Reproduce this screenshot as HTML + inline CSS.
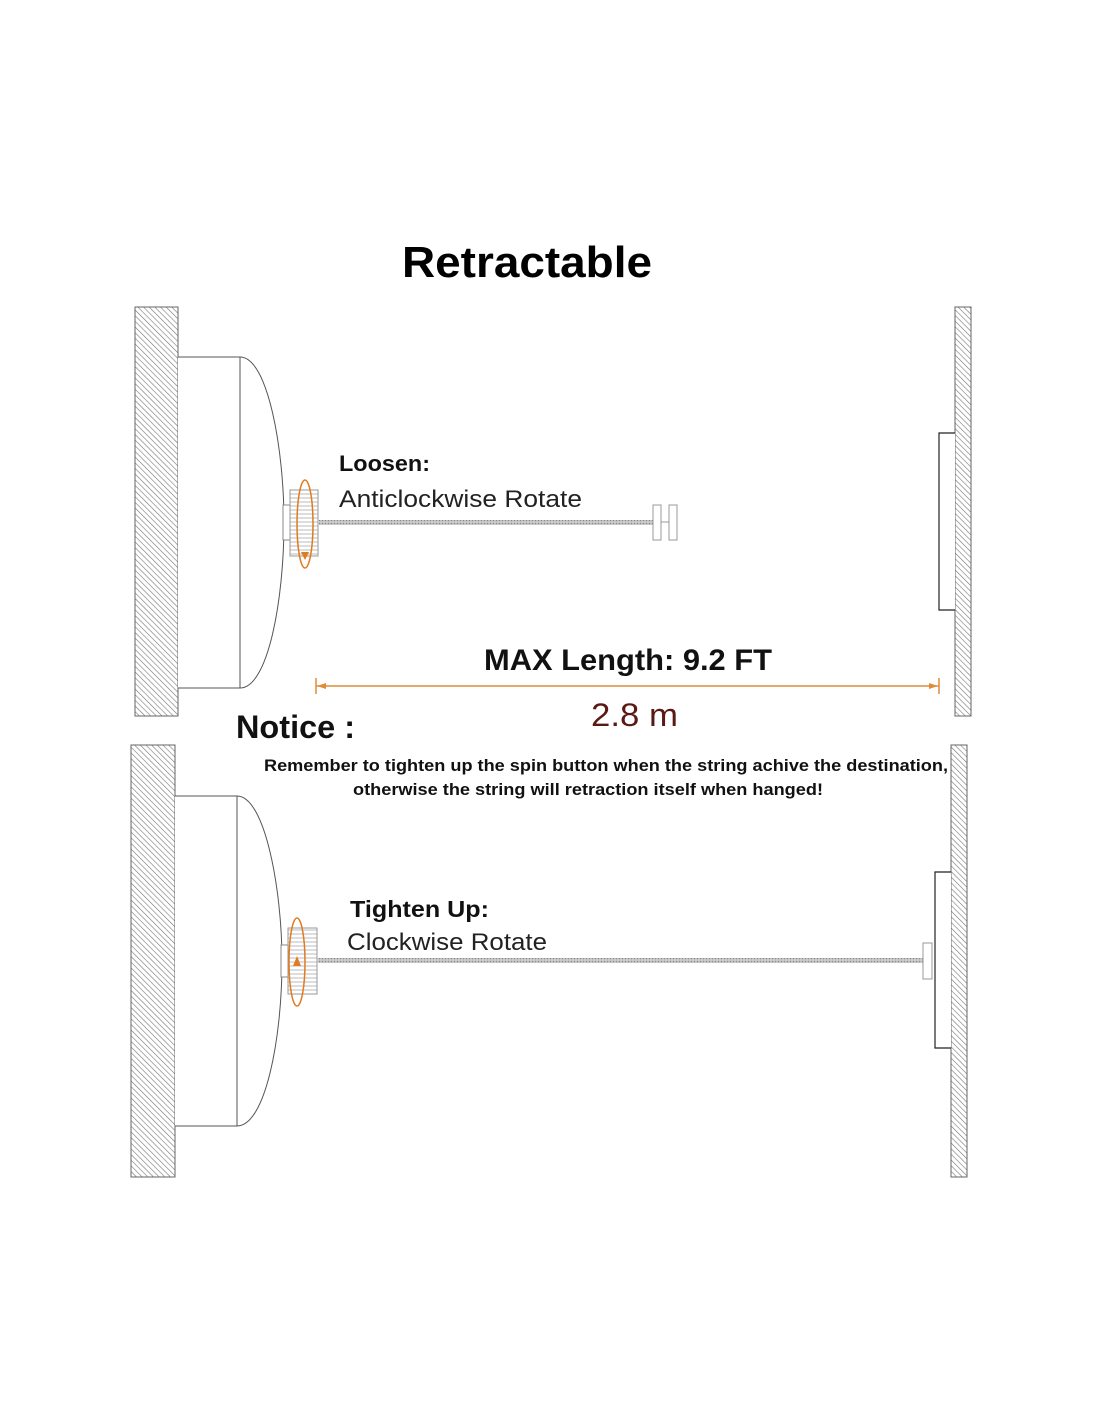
<!DOCTYPE html>
<html><head><meta charset="utf-8"><style>
html,body{margin:0;padding:0;background:#fff;}
svg{display:block;}
text{font-family:"Liberation Sans",sans-serif;}
</style></head><body>
<svg width="1100" height="1422" viewBox="0 0 1100 1422" xmlns="http://www.w3.org/2000/svg">
<defs>
<pattern id="h" width="4" height="4" patternUnits="userSpaceOnUse" patternTransform="rotate(-45)">
<rect width="4" height="4" fill="#fff"/><line x1="0" y1="0" x2="0" y2="4" stroke="#777" stroke-width="1.2"/>
</pattern>
<pattern id="k" width="4" height="4" patternUnits="userSpaceOnUse">
<rect width="4" height="4" fill="#fff"/><line x1="0" y1="2" x2="4" y2="2" stroke="#aaa" stroke-width="0.8"/>
</pattern>
<pattern id="c" width="3" height="3" patternUnits="userSpaceOnUse">
<rect width="3" height="3" fill="#ccc"/><circle cx="1.5" cy="1.5" r="0.8" fill="#888"/>
</pattern>
</defs>
<text x="402" y="277" font-size="44" font-weight="bold" fill="#000" textLength="250" lengthAdjust="spacingAndGlyphs">Retractable</text>

<!-- top -->
<rect x="135" y="307" width="43" height="409" fill="url(#h)" stroke="#666" stroke-width="1"/>
<path d="M178 357 H240 C268 357 284 450 284 522 C284 600 268 688 240 688 H178" fill="#fff" stroke="#555" stroke-width="1"/>
<line x1="240" y1="357" x2="240" y2="688" stroke="#555" stroke-width="1"/>
<rect x="283" y="505" width="7" height="35" fill="#fff" stroke="#888"/>
<rect x="290" y="490" width="28" height="66" fill="url(#k)" stroke="#999"/>
<ellipse cx="305" cy="524" rx="8" ry="44" fill="none" stroke="#e07b20" stroke-width="1.5"/>
<path d="M301 552 L305 560 L309 552 Z" fill="#e07b20"/>
<rect x="318" y="520" width="335" height="5" fill="url(#c)"/>
<rect x="653" y="505" width="8" height="35" fill="#fff" stroke="#999"/>
<rect x="669" y="505" width="8" height="35" fill="#fff" stroke="#999"/>
<line x1="661" y1="522" x2="669" y2="522" stroke="#999"/>
<rect x="955" y="307" width="16" height="409" fill="url(#h)" stroke="#666" stroke-width="1"/>
<path d="M955 433 H939 V610 H955" fill="#fff" stroke="#222" stroke-width="1.2"/>
<text x="339" y="471" font-size="22" font-weight="bold" fill="#111" textLength="91" lengthAdjust="spacingAndGlyphs">Loosen:</text>
<text x="339" y="507" font-size="24" fill="#222" textLength="243" lengthAdjust="spacingAndGlyphs">Anticlockwise Rotate</text>

<text x="484" y="670" font-size="30" font-weight="bold" fill="#111" textLength="288" lengthAdjust="spacingAndGlyphs">MAX Length: 9.2 FT</text>
<line x1="316" y1="686" x2="939" y2="686" stroke="#e08a3a" stroke-width="1.5"/>
<line x1="316" y1="678" x2="316" y2="694" stroke="#e08a3a" stroke-width="1.5"/>
<line x1="939" y1="678" x2="939" y2="694" stroke="#e08a3a" stroke-width="1.5"/>
<path d="M317 686 L326 683 L326 689 Z" fill="#e08a3a"/>
<path d="M938 686 L929 683 L929 689 Z" fill="#e08a3a"/>
<text x="591" y="726" font-size="32" fill="#5a1a14" textLength="87" lengthAdjust="spacingAndGlyphs">2.8 m</text>
<text x="236" y="738" font-size="32" font-weight="bold" fill="#111" textLength="119" lengthAdjust="spacingAndGlyphs">Notice :</text>
<text x="264" y="771" font-size="17" font-weight="bold" fill="#111" textLength="684" lengthAdjust="spacingAndGlyphs">Remember to tighten up the spin button when the string achive the destination,</text>
<text x="353" y="795" font-size="17" font-weight="bold" fill="#111" textLength="470" lengthAdjust="spacingAndGlyphs">otherwise the string will retraction itself when hanged!</text>

<!-- bottom -->
<rect x="131" y="745" width="44" height="432" fill="url(#h)" stroke="#666" stroke-width="1"/>
<path d="M175 796 H237 C265 796 282 890 282 961 C282 1040 265 1126 237 1126 H175" fill="#fff" stroke="#555" stroke-width="1"/>
<line x1="237" y1="796" x2="237" y2="1126" stroke="#555" stroke-width="1"/>
<rect x="281" y="945" width="7" height="32" fill="#fff" stroke="#888"/>
<rect x="288" y="928" width="29" height="66" fill="url(#k)" stroke="#999"/>
<ellipse cx="297" cy="962" rx="8" ry="44" fill="none" stroke="#e07b20" stroke-width="1.5"/>
<path d="M293 966 L297 956 L301 966 Z" fill="#e07b20"/>
<rect x="317" y="958" width="606" height="5" fill="url(#c)"/>
<rect x="923" y="943" width="9" height="36" fill="#fff" stroke="#999"/>
<rect x="951" y="745" width="16" height="432" fill="url(#h)" stroke="#666" stroke-width="1"/>
<path d="M951 872 H935 V1048 H951" fill="#fff" stroke="#222" stroke-width="1.2"/>
<text x="350" y="917" font-size="23" font-weight="bold" fill="#111" textLength="139" lengthAdjust="spacingAndGlyphs">Tighten Up:</text>
<text x="347" y="950" font-size="24" fill="#222" textLength="200" lengthAdjust="spacingAndGlyphs">Clockwise Rotate</text>
</svg>
</body></html>
